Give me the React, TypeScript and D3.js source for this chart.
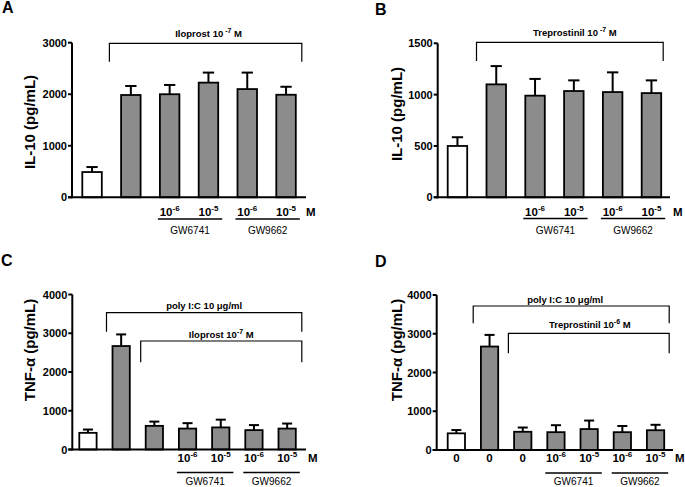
import React from "react";
import * as d3 from "d3";

// ---------- data ----------
const catsAB = ["Control", "Agonist", "GW6741 1e-6", "GW6741 1e-5", "GW9662 1e-6", "GW9662 1e-5"];
const catsCD = ["Control", "polyIC", "Agonist", "GW6741 1e-6", "GW6741 1e-5", "GW9662 1e-6", "GW9662 1e-5"];

const il10IloprostMean = [490, 1985, 2000, 2225, 2100, 1990];
const il10IloprostSem = [97, 175, 180, 195, 320, 155];
const il10TreprostinilMean = [500, 1100, 990, 1035, 1025, 1015];
const il10TreprostinilSem = [85, 178, 163, 104, 192, 124];
const tnfIloprostMean = [430, 2670, 610, 540, 570, 500, 540];
const tnfIloprostSem = [85, 300, 110, 140, 200, 130, 130];
const tnfTreprostinilMean = [430, 2670, 470, 460, 540, 460, 510];
const tnfTreprostinilSem = [85, 300, 110, 180, 220, 160, 140];

const yTicksA = [0, 1000, 2000, 3000];
const yTicksB = [0, 500, 1000, 1500];
const yTicksTNF = [0, 1000, 2000, 3000, 4000];

const doseBaseAB = ["", "", "10", "10", "10", "10"];
const doseExpAB = ["", "", "-6", "-5", "-6", "-5"];
const doseBaseC = ["", "", "", "10", "10", "10", "10"];
const doseExpC = ["", "", "", "-6", "-5", "-6", "-5"];
const doseBaseD = ["0", "0", "0", "10", "10", "10", "10"];
const doseExpD = ["", "", "", "-6", "-5", "-6", "-5"];

const inhibitorAB = ["", "", "GW6741", "GW6741", "GW9662", "GW9662"];
const inhibitorCD = ["", "", "", "GW6741", "GW6741", "GW9662", "GW9662"];

const FONT = "'Liberation Sans', Arial, Helvetica, sans-serif";
const GREY = "#8c8c8c";

type Bracket = {
  start: number;
  pre: string;
  sup: string;
  post: string;
  top: number;
  legBottom: number;
  padL: number;
  padR: number;
  labelY: number;
  dx: number;
};

type PanelProps = {
  letter: string;
  letterX: number;
  letterY: number;
  cats: string[];
  means: number[];
  sems: number[];
  yMax: number;
  yTicks: number[];
  axisX: number;
  axisEndX: number;
  yTop: number;
  yBottom: number;
  firstLeft: number;
  pitch: number;
  bw: number;
  title: string;
  titleX: number;
  titleY: number;
  doseBase: string[];
  doseExp: string[];
  doseY: number;
  underY: number;
  groupY: number;
  inhibitor: string[];
  mX: number;
  brackets: Bracket[];
};

function Panel(p: PanelProps) {
  const n = p.cats.length;
  const x = d3
    .scaleBand<string>()
    .domain(p.cats)
    .range([p.firstLeft, p.firstLeft + (n - 1) * p.pitch + p.bw])
    .paddingInner((p.pitch - p.bw) / p.pitch)
    .paddingOuter(0);
  const bw = x.bandwidth();
  const y = d3.scaleLinear().domain([0, p.yMax]).range([p.yBottom, p.yTop]);
  const cap = bw * 0.58;

  const groups: { name: string; from: number; to: number }[] = [];
  p.inhibitor.forEach((g, i) => {
    if (!g) return;
    const last = groups[groups.length - 1];
    if (last && last.name === g) last.to = i;
    else groups.push({ name: g, from: i, to: i });
  });

  return (
    <g fontFamily={FONT} fill="#000">
      <text x={p.letterX} y={p.letterY} fontSize={16} fontWeight="bold">
        {p.letter}
      </text>
      <text
        transform={`translate(${p.titleX},${p.titleY}) rotate(-90)`}
        textAnchor="middle"
        fontSize={15}
        fontWeight="bold"
      >
        {p.title}
      </text>
      <line x1={p.axisX} x2={p.axisX} y1={y(0) + 1} y2={y(p.yMax)} stroke="#000" strokeWidth={2} />
      {p.yTicks.map((t) => (
        <g key={t}>
          <line x1={p.axisX - 4} x2={p.axisX} y1={y(t)} y2={y(t)} stroke="#000" strokeWidth={2} />
          <text x={p.axisX - 5} y={y(t) + 4} textAnchor="end" fontSize={11} fontWeight="bold">
            {t}
          </text>
        </g>
      ))}
      {p.cats.map((c, i) => {
        const x0 = x(c)!;
        const cx = x0 + bw / 2;
        const top = y(p.means[i]);
        const errTop = y(p.means[i] + p.sems[i]);
        return (
          <g key={c}>
            <line x1={cx} x2={cx} y1={top} y2={errTop} stroke="#000" strokeWidth={2} />
            <line x1={cx - cap / 2} x2={cx + cap / 2} y1={errTop} y2={errTop} stroke="#000" strokeWidth={2} />
            <rect
              x={x0}
              y={top}
              width={bw}
              height={y(0) - top}
              fill={i === 0 ? "#fff" : GREY}
              stroke="#000"
              strokeWidth={1.8}
            />
          </g>
        );
      })}
      <line x1={p.axisX - 4} x2={p.axisEndX} y1={y(0)} y2={y(0)} stroke="#000" strokeWidth={2} />
      {p.cats.map((c, i) =>
        p.doseBase[i] ? (
          <text key={"d" + c} x={x(c)! + bw / 2} y={p.doseY} textAnchor="middle" fontSize={11.5} fontWeight="bold">
            {p.doseBase[i]}
            {p.doseExp[i] ? (
              <tspan fontSize={8} dy={-5}>
                {p.doseExp[i]}
              </tspan>
            ) : null}
          </text>
        ) : null
      )}
      <text x={p.mX} y={p.doseY} fontSize={11.5} fontWeight="bold">
        M
      </text>
      {groups.map((g) => {
        const gx0 = x(p.cats[g.from])! - 2;
        const gx1 = x(p.cats[g.to])! + bw + 4;
        return (
          <g key={g.name}>
            <line x1={gx0} x2={gx1} y1={p.underY} y2={p.underY} stroke="#000" strokeWidth={1.4} />
            <text x={(gx0 + gx1) / 2} y={p.groupY} textAnchor="middle" fontSize={10}>
              {g.name}
            </text>
          </g>
        );
      })}
      {p.brackets.map((b, k) => {
        const bx0 = x(p.cats[b.start])! - b.padL;
        const bx1 = x(p.cats[n - 1])! + bw + b.padR;
        return (
          <g key={k}>
            <path
              d={`M${bx0},${b.legBottom}V${b.top}H${bx1}V${b.legBottom}`}
              fill="none"
              stroke="#000"
              strokeWidth={1.2}
            />
            <text x={(bx0 + bx1) / 2 + b.dx} y={b.labelY} textAnchor="middle" fontSize={9.5} fontWeight="bold">
              {b.pre}
              <tspan fontSize={7} dy={-4}>
                {b.sup}
              </tspan>
              <tspan dy={4}>{b.post}</tspan>
            </text>
          </g>
        );
      })}
    </g>
  );
}

export default function App() {
  return (
    <svg
      width={685}
      height={487}
      style={{ position: "absolute", left: 0, top: 0, background: "#fff" }}
    >
      <rect width={685} height={487} fill="#fff" />
      <Panel
        letter="A"
        letterX={2}
        letterY={13}
        cats={catsAB}
        means={il10IloprostMean}
        sems={il10IloprostSem}
        yMax={3000}
        yTicks={yTicksA}
        axisX={72}
        axisEndX={306}
        yTop={42.7}
        yBottom={197.3}
        firstLeft={82.3}
        pitch={38.8}
        bw={19.5}
        title="IL-10 (pg/mL)"
        titleX={35}
        titleY={122}
        doseBase={doseBaseAB}
        doseExp={doseExpAB}
        doseY={216}
        underY={219}
        groupY={234}
        inhibitor={inhibitorAB}
        mX={306}
        brackets={[
          { start: 1, pre: "Iloprost 10", sup: " -7", post: " M", top: 43.3, legBottom: 61.7, padL: 11.7, padR: 6, labelY: 37, dx: 3 },
        ]}
      />
      <Panel
        letter="B"
        letterX={375}
        letterY={15}
        cats={catsAB}
        means={il10TreprostinilMean}
        sems={il10TreprostinilSem}
        yMax={1500}
        yTicks={yTicksB}
        axisX={437.7}
        axisEndX={670}
        yTop={43.3}
        yBottom={197.3}
        firstLeft={447.7}
        pitch={38.8}
        bw={19.5}
        title="IL-10 (pg/mL)"
        titleX={402}
        titleY={114}
        doseBase={doseBaseAB}
        doseExp={doseExpAB}
        doseY={216}
        underY={218.5}
        groupY={234}
        inhibitor={inhibitorAB}
        mX={673}
        brackets={[
          { start: 1, pre: "Treprostinil 10", sup: " -7", post: " M", top: 42.3, legBottom: 61, padL: 10, padR: 2, labelY: 36, dx: 5 },
        ]}
      />
      <Panel
        letter="C"
        letterX={1}
        letterY={266}
        cats={catsCD}
        means={tnfIloprostMean}
        sems={tnfIloprostSem}
        yMax={4000}
        yTicks={yTicksTNF}
        axisX={72.3}
        axisEndX={306}
        yTop={294.5}
        yBottom={449.5}
        firstLeft={79.3}
        pitch={33.2}
        bw={17.3}
        title="TNF-α (pg/mL)"
        titleX={35}
        titleY={350}
        doseBase={doseBaseC}
        doseExp={doseExpC}
        doseY={461.5}
        underY={472.5}
        groupY={485}
        inhibitor={inhibitorCD}
        mX={308}
        brackets={[
          { start: 1, pre: "poly  I:C 10 μg/ml", sup: "", post: "", top: 312.7, legBottom: 331.7, padL: 6, padR: 6, labelY: 309, dx: 0 },
          { start: 2, pre: "Iloprost 10", sup: "-7", post: " M", top: 341, legBottom: 362.3, padL: 5, padR: 6, labelY: 338, dx: 0 },
        ]}
      />
      <Panel
        letter="D"
        letterX={375}
        letterY={267}
        cats={catsCD}
        means={tnfTreprostinilMean}
        sems={tnfTreprostinilSem}
        yMax={4000}
        yTicks={yTicksTNF}
        axisX={436.7}
        axisEndX={673}
        yTop={295}
        yBottom={450}
        firstLeft={447.7}
        pitch={33.2}
        bw={17.3}
        title="TNF-α (pg/mL)"
        titleX={402}
        titleY={350}
        doseBase={doseBaseD}
        doseExp={doseExpD}
        doseY={461.5}
        underY={473}
        groupY={485}
        inhibitor={inhibitorCD}
        mX={675}
        brackets={[
          { start: 1, pre: "poly  I:C 10 μg/ml", sup: "", post: "", top: 306, legBottom: 323.3, padL: 7.7, padR: 5, labelY: 302.5, dx: -6 },
          { start: 2, pre: "Treprostinil 10", sup: "-6", post: " M", top: 333.3, legBottom: 353.3, padL: 5.7, padR: 5, labelY: 328, dx: 1 },
        ]}
      />
    </svg>
  );
}
